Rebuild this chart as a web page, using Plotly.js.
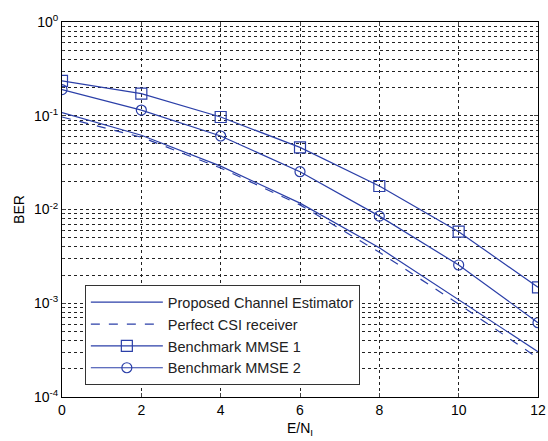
<!DOCTYPE html>
<html>
<head>
<meta charset="utf-8">
<script src="https://cdn.plot.ly/plotly-3.0.1.min.js"></script>
<style>html,body{margin:0;padding:0;background:#fff;}#chart{width:548px;height:441px;}</style>
</head>
<body>
<div id="chart"></div>
<script>
const snr = [0, 2, 4, 6, 8, 10, 12];
const proposed = [0.108, 0.062, 0.029, 0.0117, 0.0039, 0.00108, 0.000304];
const perfectCSI = [0.097, 0.059, 0.0277, 0.0112, 0.0035, 0.00098, 0.00026];
const mmse1 = [0.235, 0.172, 0.097, 0.046, 0.0178, 0.0058, 0.00148];
const mmse2 = [0.19, 0.115, 0.0608, 0.0253, 0.0085, 0.00256, 0.00062];
const yTickVals = [1e-4, 1e-3, 1e-2, 1e-1, 1];
const yTickText = ['10<sup>-4</sup>', '10<sup>-3</sup>', '10<sup>-2</sup>', '10<sup>-1</sup>', '10<sup>0</sup>'];
const xTickVals = [0, 2, 4, 6, 8, 10, 12];

const blue = '#2b3fa8';
const traces = [
  {x: snr, y: proposed, name: 'Proposed Channel Estimator', mode: 'lines',
   line: {color: blue, width: 1.2}},
  {x: snr, y: perfectCSI, name: 'Perfect CSI receiver', mode: 'lines',
   line: {color: blue, width: 1.2, dash: 'dash'}},
  {x: snr, y: mmse1, name: 'Benchmark MMSE 1', mode: 'lines+markers',
   line: {color: blue, width: 1.2},
   marker: {symbol: 'square-open', size: 11, color: blue, line: {width: 1.2, color: blue}}},
  {x: snr, y: mmse2, name: 'Benchmark MMSE 2', mode: 'lines+markers',
   line: {color: blue, width: 1.2},
   marker: {symbol: 'circle-open', size: 10, color: blue, line: {width: 1.2, color: blue}}}
];

const layout = {
  width: 548, height: 441,
  margin: {l: 62, r: 10, t: 22, b: 44},
  paper_bgcolor: '#fff', plot_bgcolor: '#fff',
  font: {family: '"Liberation Sans", Arial, sans-serif', size: 14, color: '#000'},
  showlegend: true,
  legend: {x: 0.048, y: 0.298, xanchor: 'left', yanchor: 'top',
           bgcolor: '#fff', bordercolor: '#333', borderwidth: 1,
           font: {size: 14.5, color: '#222'}, tracegroupgap: 0, itemwidth: 72},
  xaxis: {
    range: [0, 12], tickvals: xTickVals, ticks: 'inside', ticklen: 4,
    showline: true, mirror: 'ticks', linecolor: '#000', linewidth: 1,
    showgrid: true, gridcolor: '#222', griddash: 'dot', gridwidth: 1,
    zeroline: false,
    title: {text: 'E/N<sub>I</sub>', standoff: 6, font: {size: 14}}
  },
  yaxis: {
    type: 'log', range: [-4, 0], tickvals: yTickVals, ticktext: yTickText,
    ticks: 'inside', ticklen: 4,
    showline: true, mirror: 'ticks', linecolor: '#000', linewidth: 1,
    showgrid: true, gridcolor: '#222', griddash: 'dot', gridwidth: 1,
    minor: {showgrid: true, gridcolor: '#222', griddash: 'dot', gridwidth: 1,
            ticks: 'inside', ticklen: 2, dtick: 'D1'},
    zeroline: false,
    title: {text: 'BER', standoff: 6, font: {size: 14}}
  }
};

Plotly.newPlot('chart', traces, layout, {displayModeBar: false, staticPlot: true});
</script>
</body>
</html>
